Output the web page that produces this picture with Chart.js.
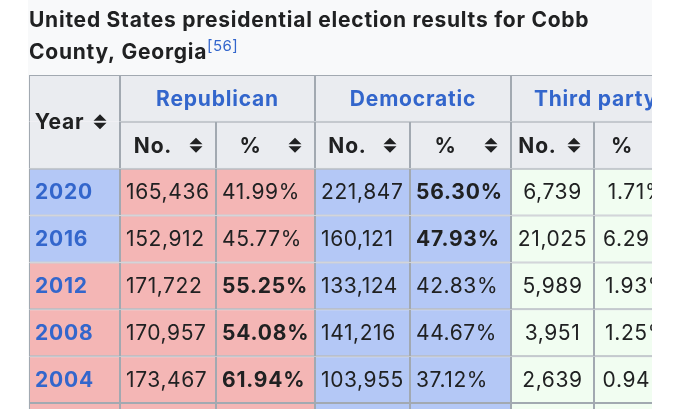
<!DOCTYPE html>
<html>
<head>
<meta charset="utf-8">
<script src="https://cdn.jsdelivr.net/npm/chart.js@4.4.0/dist/chart.umd.min.js"></script>
<style>
  html, body { margin: 0; padding: 0; background: #fff; }
  canvas { display: block; }
</style>
</head>
<body>
<canvas id="electionTable" width="680" height="409"></canvas>
<script>
// values (2000 row is only a sliver at the bottom)
const years = ['2020', '2016', '2012', '2008', '2004', '2000'];
const winners = ['dem', 'dem', 'rep', 'rep', 'rep', 'rep'];
const repVotes = [165436, 152912, 171722, 170957, 173467, null];
const repPct = [41.99, 45.77, 55.25, 54.08, 61.94, null];
const demVotes = [221847, 160121, 133124, 141216, 103955, null];
const demPct = [56.30, 47.93, 42.83, 44.67, 37.12, null];
const thirdVotes = [6739, 21025, 5989, 3951, 2639, null];
const thirdPct = [1.71, 6.29, 1.93, 1.25, 0.94, null];
const parties = ['Republican', 'Democratic', 'Third party'];
const subHeads = ['No.', '%'];
const titleLines = ['United States presidential election results for Cobb', 'County, Georgia'];
const footnote = '[56]';

// layout + look
const colEdges = [29, 120, 216, 315, 410, 511, 594, 680];
const FONT = 'Inter, "Noto Sans", sans-serif';
const colors = {
  rep: '#f4b6b5', dem: '#b4c8f6', third: '#f1fdf1', head: '#eaecf0',
  line: '#a2a9b1', text: '#202122', link: '#3366cc'
};

function cell(col, row, opts) {
  const span = opts.span || 1;
  return Object.assign({ x: [colEdges[col], colEdges[col + span]], y: row }, opts);
}
const fmtNum = v => v == null ? '' : v.toLocaleString('en-US');
const fmtPct = v => v == null ? '' : v.toFixed(2) + '%';

const cols = [[], [], [], [], [], [], []];

// header rows
cols[0].push(cell(0, 0, { bg: colors.head, text: 'Year', bold: true, sort: true, skip: 'bottom', onEdge: true }));
cols[0].push(cell(0, 1, { bg: colors.head, skip: 'top' }));
parties.forEach((p, k) => {
  cols[1 + k * 2].push(cell(1 + k * 2, 0, { span: 2, bg: colors.head, text: p, bold: true, color: colors.link }));
  subHeads.forEach((s, j) => {
    cols[1 + k * 2 + j].push(cell(1 + k * 2 + j, 1, { bg: colors.head, text: s, bold: true, sort: true }));
  });
});

// data rows
years.forEach((yr, i) => {
  const r = i + 2;
  const w = winners[i];
  cols[0].push(cell(0, r, { bg: colors[w], text: yr, bold: true, color: colors.link, align: 'left' }));
  cols[1].push(cell(1, r, { bg: colors.rep, text: fmtNum(repVotes[i]), align: 'left' }));
  cols[2].push(cell(2, r, { bg: colors.rep, text: fmtPct(repPct[i]), bold: w === 'rep', align: 'left' }));
  cols[3].push(cell(3, r, { bg: colors.dem, text: fmtNum(demVotes[i]), align: 'left' }));
  cols[4].push(cell(4, r, { bg: colors.dem, text: fmtPct(demPct[i]), bold: w === 'dem', align: 'left' }));
  cols[5].push(cell(5, r, { bg: colors.third, text: fmtNum(thirdVotes[i]) }));
  cols[6].push(cell(6, r, { bg: colors.third, text: fmtPct(thirdPct[i]) }));
});

const colNames = ['Year', 'Rep No.', 'Rep %', 'Dem No.', 'Dem %', 'Third No.', 'Third %'];
const rowIdx = [0, 1, 2, 3, 4, 5, 6, 7];

function sortIcon(ctx, cx, cy) {
  ctx.beginPath();
  ctx.moveTo(cx - 6.5, cy - 1); ctx.lineTo(cx + 6.5, cy - 1); ctx.lineTo(cx, cy - 7.5); ctx.closePath();
  ctx.moveTo(cx - 6.5, cy + 1); ctx.lineTo(cx + 6.5, cy + 1); ctx.lineTo(cx, cy + 7.5); ctx.closePath();
  ctx.fill();
}

const tablePlugin = {
  id: 'tableText',
  beforeDraw(chart) {
    const { ctx, chartArea } = chart;
    ctx.save();
    ctx.fillStyle = '#ffffff';
    ctx.fillRect(0, 0, chart.width, chart.height);
    ctx.fillStyle = '#f8f9fa';
    ctx.fillRect(chartArea.left - 1, 0, chartArea.right - chartArea.left + 1, chart.height);
    ctx.restore();
    ctx.letterSpacing = '0.75px'; // for the title, drawn next
  },
  afterDatasetsDraw(chart) {
    const { ctx, chartArea } = chart;
    ctx.save();
    ctx.beginPath();
    ctx.rect(chartArea.left, chartArea.top, chartArea.right - chartArea.left, chartArea.bottom - chartArea.top);
    ctx.clip();
    ctx.textBaseline = 'middle';
    chart.data.datasets.forEach((ds, d) => {
      chart.getDatasetMeta(d).data.forEach((el, i) => {
        const raw = ds.data[i];
        if (!raw.text) return;
        const left = Math.min(el.x, el.base);
        const right = Math.max(el.x, el.base);
        const cy = raw.onEdge ? el.y + el.height / 2 : el.y;
        ctx.font = (raw.bold ? 'bold ' : '') + '21px ' + FONT;
        ctx.letterSpacing = raw.bold ? '0.8px' : '0.6px';
        ctx.fillStyle = raw.color || colors.text;
        if (raw.align === 'left') {
          ctx.textAlign = 'left';
          ctx.fillText(raw.text, left + 6, cy + 1);
        } else {
          const innerRight = raw.sort ? right - 30 : right;
          ctx.textAlign = 'center';
          ctx.fillText(raw.text, (left + innerRight) / 2, cy + 1);
        }
        if (raw.sort) {
          ctx.fillStyle = colors.text;
          sortIcon(ctx, right - 20, cy);
        }
      });
    });
    ctx.restore();
  },
  afterDraw(chart) {
    const { ctx } = chart;
    const tb = chart.titleBlock;
    ctx.save();
    ctx.font = 'bold 21px ' + FONT;
    ctx.letterSpacing = '0.75px';
    const w = ctx.measureText(titleLines[1]).width;
    ctx.font = '15px ' + FONT;
    ctx.letterSpacing = '0.4px';
    ctx.fillStyle = colors.link;
    ctx.textBaseline = 'alphabetic';
    ctx.textAlign = 'left';
    ctx.fillText(footnote, tb.left + w, 51);
    ctx.restore();
    ctx.letterSpacing = '0px';
  }
};

new Chart(document.getElementById('electionTable'), {
  type: 'bar',
  data: {
    datasets: cols.map((data, c) => ({
      label: colNames[c],
      data,
      clip: 0,
      borderColor: colors.line,
      backgroundColor: ctx => (ctx.raw ? ctx.raw.bg : colors.head),
      borderSkipped: ctx => (ctx.raw && ctx.raw.skip) || false
    }))
  },
  options: {
    indexAxis: 'y',
    responsive: false,
    animation: false,
    events: [],
    layout: { padding: { left: 29, right: 28, top: 0, bottom: 0 } },
    datasets: {
      bar: {
        grouped: false,
        barPercentage: 1,
        categoryPercentage: 1,
        borderWidth: 1,
        inflateAmount: 0
      }
    },
    scales: {
      x: { type: 'linear', min: 29, max: 652, display: false },
      y: {
        type: 'linear', reverse: true, offset: false, min: -0.5, max: 6.628, display: false,
        grid: { offset: false },
        afterBuildTicks: scale => { scale.ticks = rowIdx.map(v => ({ value: v })); }
      }
    },
    plugins: {
      colors: { enabled: false },
      legend: { display: false },
      tooltip: { enabled: false },
      title: {
        display: true,
        align: 'start',
        text: titleLines,
        color: colors.text,
        font: { family: FONT, size: 21, weight: 'bold', lineHeight: 1.5 },
        padding: { top: 5, bottom: 7 }
      }
    }
  },
  plugins: [tablePlugin]
});
</script>
</body>
</html>
